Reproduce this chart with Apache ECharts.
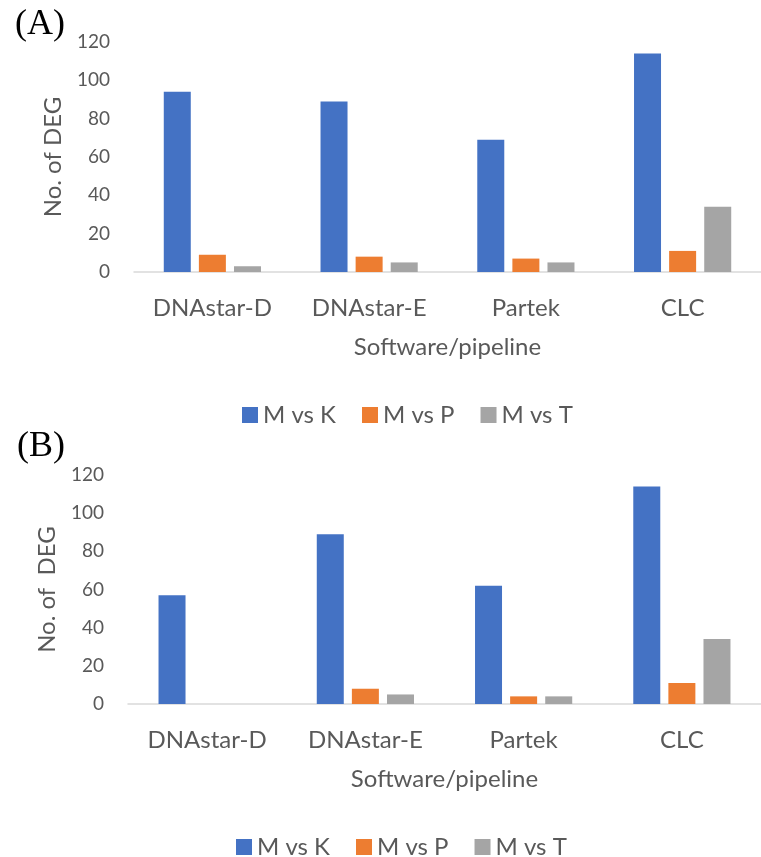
<!DOCTYPE html>
<html>
<head>
<meta charset="utf-8">
<script src="https://cdn.jsdelivr.net/npm/echarts@6/dist/echarts.min.js"></script>
<style>
  html, body { margin: 0; padding: 0; background: #fff; }
  #chart { width: 761px; height: 857px; }
</style>
</head>
<body>
<div id="chart"></div>
<script>
// categories and series names
const categories = ['DNAstar-D', 'DNAstar-E', 'Partek', 'CLC'];
const seriesNames = ['M vs K', 'M vs P', 'M vs T'];
const colors = ['#4472C4', '#ED7D31', '#A5A5A5'];

// panel (A)
const mvsKA = [94, 89, 69, 114];
const mvsPA = [9, 8, 7, 11];
const mvsTA = [3, 5, 5, 34];

// panel (B)
const mvsKB = [57, 89, 62, 114];
const mvsPB = [0, 8, 4, 11];
const mvsTB = [0, 5, 4, 34];

const yTicks = { min: 0, max: 120, interval: 20 };

const textColor = '#595959';
const labelFont = 'Lato';

function xAxisOpt(gridIndex) {
  return {
    type: 'category',
    gridIndex: gridIndex,
    data: categories,
    name: 'Software/pipeline',
    nameLocation: 'middle',
    nameGap: 63,
    nameTextStyle: { fontFamily: labelFont, fontSize: 24, color: textColor },
    axisLine: { lineStyle: { color: '#D9D9D9', width: 1.5 } },
    axisTick: { show: false },
    axisLabel: { fontFamily: labelFont, fontSize: 24, color: textColor, margin: 24 }
  };
}

function yAxisOpt(gridIndex, name) {
  return {
    type: 'value',
    gridIndex: gridIndex,
    min: yTicks.min,
    max: yTicks.max,
    interval: yTicks.interval,
    name: name,
    nameLocation: 'middle',
    nameGap: 69,
    nameTextStyle: { fontFamily: labelFont, fontSize: 24, color: textColor },
    axisLine: { show: false },
    axisTick: { show: false },
    splitLine: { show: false },
    axisLabel: { fontFamily: labelFont, fontSize: 19, color: textColor, margin: 24 }
  };
}

function barSeries(idx, data, name) {
  return {
    type: 'bar',
    name: name,
    xAxisIndex: idx,
    yAxisIndex: idx,
    data: data,
    barWidth: 27,
    barGap: '30%',
    itemStyle: { color: colors[seriesNames.indexOf(name)] }
  };
}

function legendOpt(top, left) {
  return {
    data: seriesNames,
    top: top,
    left: left,
    icon: 'rect',
    itemWidth: 16,
    itemHeight: 16,
    itemGap: 26,
    textStyle: { fontFamily: labelFont, fontSize: 24, color: textColor }
  };
}

const chart = echarts.init(document.getElementById('chart'));

chart.setOption({
  backgroundColor: '#fff',
  animation: false,
  title: [
    { text: '(A)', left: 10, top: 2, textStyle: { fontFamily: 'Liberation Serif', fontSize: 36, fontWeight: 'normal', color: '#000' } },
    { text: '(B)', left: 12, top: 424, textStyle: { fontFamily: 'Liberation Serif', fontSize: 36, fontWeight: 'normal', color: '#000' } }
  ],
  legend: [legendOpt(398, 237), legendOpt(830, 231)],
  grid: [
    { left: 134, right: -8, top: 42, height: 230 },
    { left: 128, right: -3, top: 475, height: 229 }
  ],
  xAxis: [xAxisOpt(0), xAxisOpt(1)],
  yAxis: [yAxisOpt(0, 'No. of DEG'), yAxisOpt(1, 'No. of  DEG')],
  series: [
    barSeries(0, mvsKA, 'M vs K'),
    barSeries(0, mvsPA, 'M vs P'),
    barSeries(0, mvsTA, 'M vs T'),
    barSeries(1, mvsKB, 'M vs K'),
    barSeries(1, mvsPB, 'M vs P'),
    barSeries(1, mvsTB, 'M vs T')
  ]
});
</script>
</body>
</html>
